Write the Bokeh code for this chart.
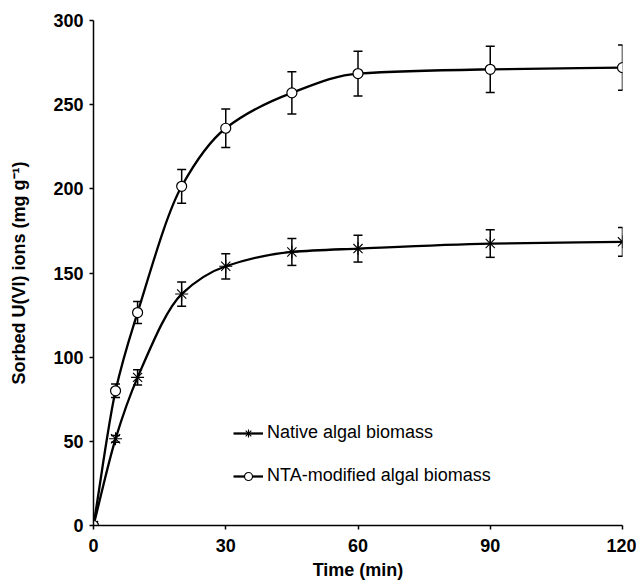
import numpy as np
from bokeh.plotting import figure
from bokeh.models import (ColumnDataSource, Range1d, Whisker, TeeHead, Legend,
                          LegendItem, FixedTicker)
from bokeh.embed import file_html
from bokeh.resources import INLINE

# ---- data ----
time_min = [0, 5, 10, 20, 30, 45, 60, 90, 120]
native = [0, 51.5, 88, 137.5, 154, 162.5, 164.5, 167.5, 168.5]
native_err = [0, 2, 4.5, 7.2, 7.5, 8, 8, 8.2, 8.5]
nta = [0, 80, 126.5, 201.5, 236, 257, 268.5, 271, 272]
nta_err = [0, 4, 6.5, 10, 11.5, 12.5, 13.3, 13.7, 13.4]
x_ticks = [0, 30, 60, 90, 120]
y_ticks = [0, 50, 100, 150, 200, 250, 300]

FONT = "Liberation Sans"


def bezier_source(x, y):
    """Monotone cubic (Fritsch-Butland) curve through the points, as bezier segments."""
    x = np.asarray(x, float)
    y = np.asarray(y, float)
    h = np.diff(x)
    d = np.diff(y) / h
    m = np.zeros_like(x)
    m[0] = d[0]
    m[-1] = d[-1]
    for k in range(1, len(x) - 1):
        if d[k - 1] * d[k] <= 0:
            m[k] = 0.0
        else:
            h0, h1 = h[k - 1], h[k]
            m[k] = 3 * (h0 + h1) / ((2 * h1 + h0) / d[k - 1] + (h1 + 2 * h0) / d[k])
    return ColumnDataSource(dict(
        x0=x[:-1], y0=y[:-1], x1=x[1:], y1=y[1:],
        cx0=x[:-1] + h / 3, cy0=y[:-1] + m[:-1] * h / 3,
        cx1=x[1:] - h / 3, cy1=y[1:] - m[1:] * h / 3,
    ))


def err_source(x, y, e):
    x = np.asarray(x, float); y = np.asarray(y, float); e = np.asarray(e, float)
    k = e > 0
    return ColumnDataSource(dict(base=x[k], upper=y[k] + e[k], lower=y[k] - e[k]))


p = figure(width=636, height=584, output_backend="svg", toolbar_location=None,
           x_range=Range1d(0, 120), y_range=Range1d(0, 300),
           min_border_left=93, min_border_right=14, min_border_top=20,
           min_border_bottom=59)
p.outline_line_color = None
p.grid.visible = False
p.background_fill_color = "white"

for ax in (p.xaxis[0], p.yaxis[0]):
    ax.axis_line_width = 1.5
    ax.axis_line_color = "black"
    ax.major_tick_line_width = 1.5
    ax.major_tick_out = 4
    ax.major_tick_in = 0
    ax.minor_tick_line_color = None
    ax.major_label_text_font = FONT
    ax.major_label_text_font_style = "bold"
    ax.major_label_text_font_size = "18px"
    ax.major_label_text_color = "black"
    ax.major_label_standoff = 6
    ax.axis_label_text_font = FONT
    ax.axis_label_text_font_style = "bold"
    ax.axis_label_text_font_size = "18px"
    ax.axis_label_text_color = "black"

p.xaxis.major_label_standoff = 9
p.xaxis.ticker = FixedTicker(ticks=x_ticks)
p.yaxis.ticker = FixedTicker(ticks=y_ticks)
p.xaxis.axis_label = "Time (min)"
p.xaxis.axis_label_standoff = 5
p.yaxis.axis_label = "Sorbed U(VI) ions (mg g\u207b\u00b9)"
p.yaxis.axis_label_standoff = 21

# curves
nat_curve = p.bezier(x0="x0", y0="y0", x1="x1", y1="y1", cx0="cx0", cy0="cy0",
                     cx1="cx1", cy1="cy1", source=bezier_source(time_min, native),
                     line_color="black", line_width=2.3)
nta_curve = p.bezier(x0="x0", y0="y0", x1="x1", y1="y1", cx0="cx0", cy0="cy0",
                     cx1="cx1", cy1="cy1", source=bezier_source(time_min, nta),
                     line_color="black", line_width=2.3)

# error bars
for xs, ys, es in ((time_min, native, native_err), (time_min, nta, nta_err)):
    w = Whisker(source=err_source(xs, ys, es), base="base", upper="upper", lower="lower",
                line_color="black", line_width=1.5,
                upper_head=TeeHead(size=9, line_width=1.5, line_color="black"),
                lower_head=TeeHead(size=9, line_width=1.5, line_color="black"))
    p.add_layout(w)

nat_pts = p.scatter(time_min, native, marker="asterisk", size=13,
                    line_color="black", line_width=1.1)
nta_pts = p.scatter(time_min, nta, marker="circle", size=10,
                    line_color="black", fill_color="white", line_width=1.2)

legend = Legend(items=[
    LegendItem(label="Native algal biomass", renderers=[nat_curve, nat_pts]),
    LegendItem(label="NTA-modified algal biomass", renderers=[nta_curve, nta_pts]),
], location=(140, 39))
legend.border_line_color = None
legend.background_fill_alpha = 0
legend.padding = 0
legend.margin = 0
legend.spacing = 22
legend.glyph_width = 30
legend.glyph_height = 20
legend.label_height = 20
legend.label_standoff = 4
legend.label_text_font = FONT
legend.label_text_font_size = "18px"
legend.label_text_color = "black"
p.add_layout(legend)

open("out.html", "w").write(file_html(p, INLINE))
